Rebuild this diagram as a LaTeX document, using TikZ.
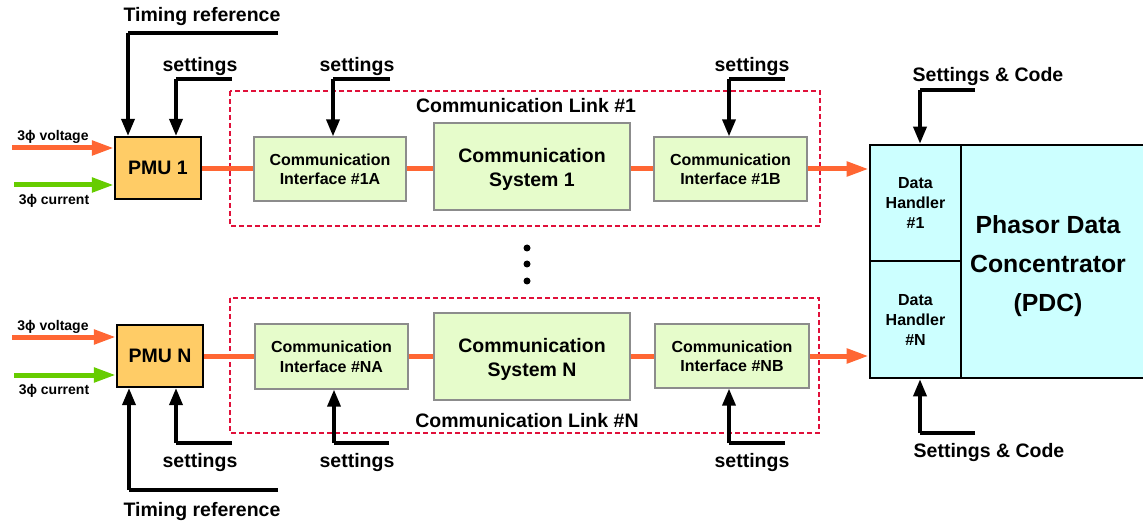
\documentclass[tikz,border=0pt]{standalone}
\usepackage{fontspec}
\setmainfont{Liberation Sans}
\usetikzlibrary{arrows.meta}
\definecolor{pmuorange}{HTML}{FFCC66}
\definecolor{boxgreen}{HTML}{E6FCCB}
\definecolor{pdccyan}{HTML}{CCFFFF}
\definecolor{sigred}{HTML}{FF6633}
\definecolor{siggreen}{HTML}{66CC00}
\definecolor{linkred}{HTML}{E0103A}
\begin{document}
\begin{tikzpicture}[x=1pt,y=-1pt,
  lbl/.style={inner sep=0pt,yshift=-2.5pt,font=\bfseries\fontsize{19.5}{23}\selectfont},
  small/.style={inner sep=0pt,yshift=-3pt,font=\bfseries\fontsize{14}{16}\selectfont},
  pmu/.style={draw=black,line width=2.2pt,fill=pmuorange,inner sep=0pt,font=\bfseries\fontsize{19.5}{23}\selectfont},
  iface/.style={draw=gray!90,line width=1.3pt,fill=boxgreen,inner sep=0pt,align=center,font=\bfseries\fontsize{16}{19.5}\selectfont},
  csys/.style={draw=gray!90,line width=1.3pt,fill=boxgreen,inner sep=0pt,align=center,font=\bfseries\fontsize{19.5}{24}\selectfont},
  pdcbox/.style={draw=black,line width=2.6pt,fill=pdccyan,inner sep=0pt,align=center},
  linkbox/.style={draw=linkred,line width=1.8pt,dash pattern=on 5pt off 3pt},
  ctrl/.style={draw=black,line width=3.5pt,-{Triangle[length=17pt,width=13pt]}},
  ctrlline/.style={draw=black,line width=3.5pt},
  redline/.style={draw=sigred,line width=5pt},
  redarrow/.style={draw=sigred,line width=5pt,-{Triangle[length=22pt,width=14pt]}},
  greenarrow/.style={draw=siggreen,line width=5pt,-{Triangle[length=22pt,width=14pt]}},
  dotnode/.style={circle,fill=black,inner sep=0pt,minimum size=7pt}
]
\useasboundingbox (0,0) rectangle (1143,521);

% dashed link boxes
\draw[linkbox] (230,91) rectangle (820,226);
\draw[linkbox] (230,298) rectangle (819,433);
\node[lbl] (link1) at (526,103) {Communication Link \#1};
\node[lbl] (linkN) at (527,418) {Communication Link \#N};

% PMUs
\node[pmu,minimum width=86pt,minimum height=62pt] (pmu1) at (158,168) {PMU 1};
\node[pmu,minimum width=86pt,minimum height=62pt] (pmuN) at (160,356) {PMU N};

% link 1 boxes
\node[iface,minimum width=152pt,minimum height=64pt,text depth=0pt] (if1a) at (330,169) {Communication\\Interface \#1A};
\node[csys,minimum width=196pt,minimum height=87pt] (sys1) at (532,166.5) {};
\node[csys,draw=none,fill=none,minimum width=0pt,minimum height=0pt] (sys1t) at (532,169.5) {Communication\\System 1};
\node[iface,minimum width=153pt,minimum height=64pt,text depth=0pt] (if1b) at (730.5,169) {Communication\\Interface \#1B};

% link N boxes
\node[iface,minimum width=153pt,minimum height=65pt,text depth=0pt] (ifna) at (331.5,356.5) {Communication\\Interface \#NA};
\node[csys,minimum width=196pt,minimum height=87pt] (sysn) at (532,356.5) {};
\node[csys,draw=none,fill=none,minimum width=0pt,minimum height=0pt] (sysnt) at (532,359.5) {Communication\\System N};
\node[iface,minimum width=154pt,minimum height=64pt,text depth=0pt] (ifnb) at (732,356) {Communication\\Interface \#NB};

% PDC
\node[pdcbox,minimum width=91pt,minimum height=116pt,font=\bfseries\fontsize{16}{20}\selectfont] (dh1) at (915.5,203) {Data\\Handler\\\#1};
\node[pdcbox,minimum width=91pt,minimum height=117pt,font=\bfseries\fontsize{16}{20}\selectfont] (dhn) at (915.5,319.5) {Data\\Handler\\\#N};
\node[pdcbox,minimum width=186pt,minimum height=233pt] (pdc) at (1054,261.5) {};
\node[inner sep=0pt,align=center,font=\bfseries\fontsize{24.8}{39}\selectfont] (pdctxt) at (1048,266) {Phasor Data\\Concentrator\\(PDC)};

% data path link 1
\draw[redline] (pmu1.east |- if1a.west) -- (if1a.west);
\draw[redline] (if1a.east) -- (sys1.west |- if1a.east);
\draw[redline] (sys1.east |- if1b.west) -- (if1b.west);
\draw[redarrow] (if1b.east) -- (if1b.east -| dh1.west);
% data path link N
\draw[redline] (pmuN.east |- ifna.west) -- (ifna.west);
\draw[redline] (ifna.east) -- (sysn.west |- ifna.east);
\draw[redline] (sysn.east |- ifnb.west) -- (ifnb.west);
\draw[redarrow] (ifnb.east) -- (ifnb.east -| dhn.west);

% PMU inputs
\coordinate (v1) at (12,148);
\coordinate (c1) at (14,185);
\coordinate (vn) at (12,337);
\coordinate (cn) at (14,375);
\draw[redarrow] (v1) -- (v1 -| pmu1.west);
\draw[greenarrow] (c1) -- (c1 -| pmu1.west);
\draw[redarrow] (vn) -- (vn -| pmuN.west);
\draw[greenarrow] (cn) -- (cn -| pmuN.west);
\node[small] (v1l) at (53,134) {3ϕ voltage};
\node[small] (c1l) at (54,198) {3ϕ current};
\node[small] (vnl) at (53,324) {3ϕ voltage};
\node[small] (cnl) at (54,388) {3ϕ current};

% PMU 1 control inputs
\coordinate (t1a) at (278,33);
\coordinate (t1b) at (128,33);
\draw[ctrlline] (t1a) -- (t1b);
\draw[ctrl] (t1b) -- (t1b |- pmu1.north);
\node[lbl] (t1l) at (202,14) {Timing reference};
\coordinate (s1a) at (232,79);
\coordinate (s1b) at (176,79);
\draw[ctrlline] (s1a) -- (s1b);
\draw[ctrl] (s1b) -- (s1b |- pmu1.north);
\node[lbl] (s1l) at (200,64) {settings};

% PMU N control inputs
\coordinate (tna) at (278,490);
\coordinate (tnb) at (129,490);
\draw[ctrlline] (tna) -- (tnb);
\draw[ctrl] (tnb) -- (tnb |- pmuN.south);
\node[lbl] (tnl) at (202,509) {Timing reference};
\coordinate (sna) at (232,443);
\coordinate (snb) at (176,443);
\draw[ctrlline] (sna) -- (snb);
\draw[ctrl] (snb) -- (snb |- pmuN.south);
\node[lbl] (snl) at (200,460) {settings};

% interface settings link 1
\coordinate (sa1) at (390,79);
\coordinate (sa1b) at (333,79);
\draw[ctrlline] (sa1) -- (sa1b);
\draw[ctrl] (sa1b) -- (sa1b |- if1a.north);
\node[lbl] (sa1l) at (357,64) {settings};
\coordinate (sb1) at (785,79);
\coordinate (sb1b) at (729,79);
\draw[ctrlline] (sb1) -- (sb1b);
\draw[ctrl] (sb1b) -- (sb1b |- if1b.north);
\node[lbl] (sb1l) at (752,64) {settings};

% interface settings link N
\coordinate (san) at (389,443);
\coordinate (sanb) at (334,443);
\draw[ctrlline] (san) -- (sanb);
\draw[ctrl] (sanb) -- (sanb |- ifna.south);
\node[lbl] (sanl) at (357,460) {settings};
\coordinate (sbn) at (785,443);
\coordinate (sbnb) at (729,443);
\draw[ctrlline] (sbn) -- (sbnb);
\draw[ctrl] (sbnb) -- (sbnb |- ifnb.south);
\node[lbl] (sbnl) at (752,460) {settings};

% PDC settings
\coordinate (pt) at (975,90);
\coordinate (ptb) at (920,90);
\draw[ctrlline] (pt) -- (ptb);
\draw[ctrl] (ptb) -- (ptb |- dh1.north);
\node[lbl] (ptl) at (988,74) {Settings \& Code};
\coordinate (pb) at (975,433);
\coordinate (pbb) at (920,433);
\draw[ctrlline] (pb) -- (pbb);
\draw[ctrl] (pbb) -- (pbb |- dhn.south);
\node[lbl] (pbl) at (989,450) {Settings \& Code};

% dots
\node[dotnode] (d1) at (527,248) {};
\node[dotnode] (d2) at (527,264) {};
\node[dotnode] (d3) at (527,281) {};
\end{tikzpicture}
\end{document}
